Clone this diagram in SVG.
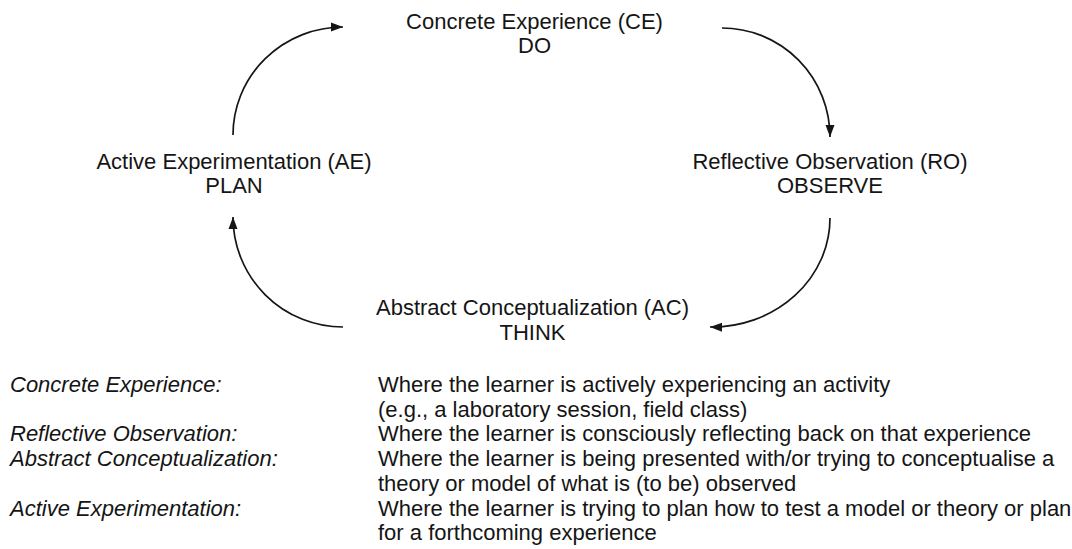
<svg xmlns="http://www.w3.org/2000/svg" width="1072" height="549" viewBox="0 0 1072 549">
<style>
text{font-family:"Liberation Sans",Arial,sans-serif;font-size:22px;fill:#151515}
.n text{text-anchor:middle}
.lbl{font-style:italic}
.arc{fill:none;stroke:#151515;stroke-width:1.7}
</style>
<defs>
<marker id="ah" markerWidth="13" markerHeight="10" refX="12" refY="5" orient="auto" markerUnits="userSpaceOnUse">
<path d="M0,0.5 L12,5 L0,9.5 Z" fill="#151515"/>
</marker>
</defs>
<rect width="1072" height="549" fill="#fff"/>
<g id="connectors">
<path class="arc" d="M233,135 A110,108 0 0 1 343,27" marker-end="url(#ah)"/>
<path class="arc" d="M722,28 A108,109 0 0 1 830,137" marker-end="url(#ah)"/>
<path class="arc" d="M830,218 A118,109 0 0 1 710,327" marker-end="url(#ah)"/>
<path class="arc" d="M343,327 A110,110 0 0 1 233,217" marker-end="url(#ah)"/>
</g>
<g id="node-ce" class="n">
<text x="534.5" y="28.7">Concrete Experience (CE)</text>
<text x="534.5" y="53.4">DO</text>
</g>
<g id="node-ro" class="n">
<text x="830" y="168.7">Reflective Observation (RO)</text>
<text x="830" y="193.4">OBSERVE</text>
</g>
<g id="node-ae" class="n">
<text x="234" y="168.7">Active Experimentation (AE)</text>
<text x="234" y="193.4">PLAN</text>
</g>
<g id="node-ac" class="n">
<text x="532.5" y="315.2">Abstract Conceptualization (AC)</text>
<text x="532.5" y="339.9">THINK</text>
</g>
<g id="legend">
<text class="lbl" x="10" y="392">Concrete Experience:</text>
<text class="lbl" x="10" y="441.4">Reflective Observation:</text>
<text class="lbl" x="10" y="466.1">Abstract Conceptualization:</text>
<text class="lbl" x="10" y="515.5">Active Experimentation:</text>
<text x="378" y="392">Where the learner is actively experiencing an activity</text>
<text x="378" y="416.7">(e.g., a laboratory session, field class)</text>
<text x="378" y="441.4">Where the learner is consciously reflecting back on that experience</text>
<text x="378" y="466.1">Where the learner is being presented with/or trying to conceptualise a</text>
<text x="378" y="490.8">theory or model of what is (to be) observed</text>
<text x="378" y="515.5">Where the learner is trying to plan how to test a model or theory or plan</text>
<text x="378" y="540.2">for a forthcoming experience</text>
</g>
</svg>
